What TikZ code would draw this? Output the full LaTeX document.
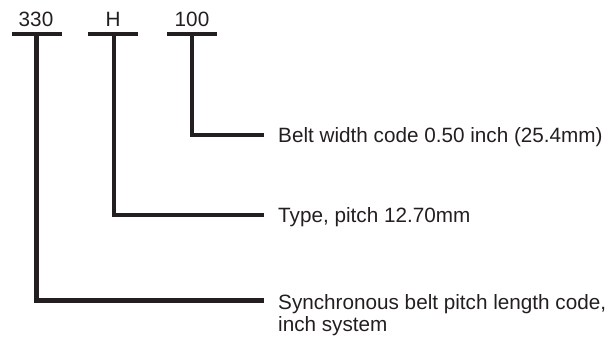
\documentclass[tikz,border=0pt]{standalone}
\usepackage{fontspec}
\setmainfont{Liberation Sans}
\definecolor{ink}{HTML}{231F20}
\begin{document}
\begin{tikzpicture}[x=1pt,y=-1pt,
  codeline/.style={draw=ink,line width=4.5pt,line cap=butt,line join=miter},
  codetext/.style={anchor=base,inner sep=0pt,text=ink,font=\fontsize{20.7}{23}\selectfont},
  desc/.style={anchor=base west,inner sep=0pt,text=ink,align=left,font=\fontsize{20.7}{23}\selectfont}]
\useasboundingbox (0,0) rectangle (611,339);
% code labels
\node[codetext] (c1) at (36,27) {330};
\node[codetext] (c2) at (113,27) {H};
\node[codetext] (c3) at (192,27) {100};
% bars
\coordinate (b1l) at (12,34); \coordinate (b1r) at (62,34); \coordinate (b1) at (36.5,34);
\coordinate (b2l) at (88,34); \coordinate (b2r) at (138,34); \coordinate (b2) at (114,34);
\coordinate (b3l) at (167,34); \coordinate (b3r) at (217,34); \coordinate (b3) at (192,34);
\draw[codeline] (b1l) -- (b1r);
\draw[codeline] (b2l) -- (b2r);
\draw[codeline] (b3l) -- (b3r);
% descriptions
\node[desc] (d3) at (278,143) {Belt width code 0.50 inch (25.4mm)};
\node[desc] (d2) at (278,223) {Type, pitch 12.70mm};
\node[desc] (d1) at (278,332) {Synchronous belt pitch length code,\\inch system};
\coordinate (e3) at (264,135);
\coordinate (e2) at (264,215);
\coordinate (e1) at (264,300.5);
\draw[codeline] (b3) |- (e3);
\draw[codeline] (b2) |- (e2);
\draw[codeline] (b1) |- (e1);
\end{tikzpicture}
\end{document}
